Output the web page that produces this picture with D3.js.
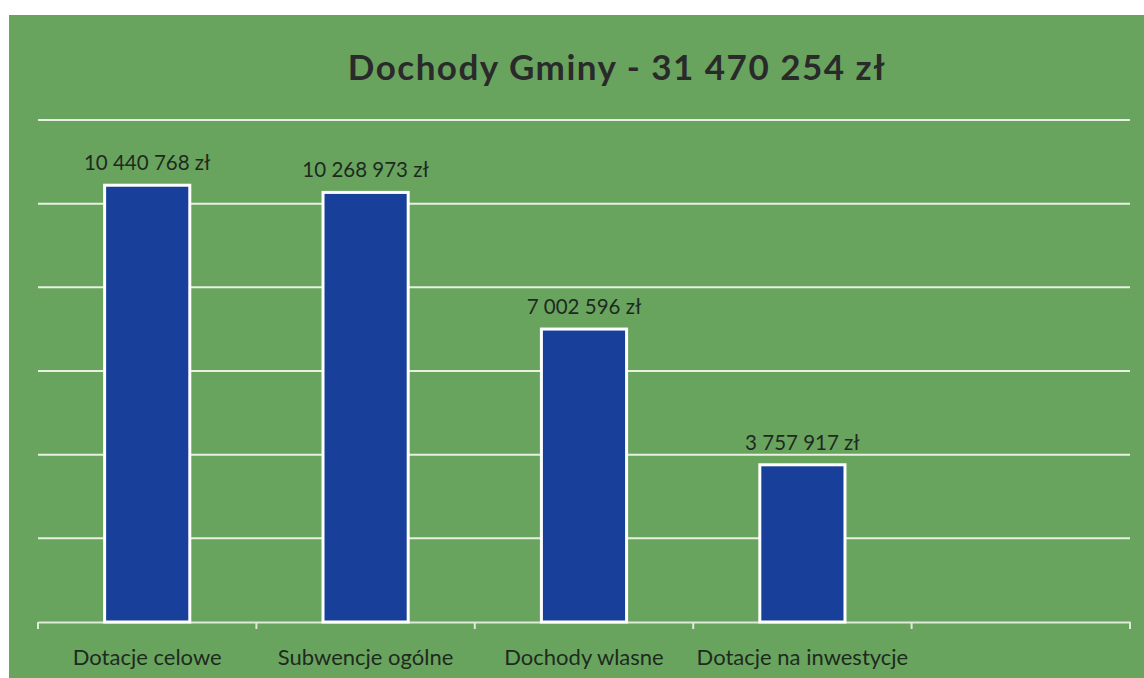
<!DOCTYPE html>
<html><head><meta charset="utf-8">
<script src="https://cdn.jsdelivr.net/npm/d3@7"></script>
<style>body{margin:0;background:#fff}svg{display:block}</style>
</head><body>
<svg id="c" width="1144" height="678"></svg>
<script>
const categories = ["Dotacje celowe", "Subwencje ogólne", "Dochody wlasne", "Dotacje na inwestycje", ""];
const values = [10440768, 10268973, 7002596, 3757917, null];
const valueLabels = ["10 440 768 zł", "10 268 973 zł", "7 002 596 zł", "3 757 917 zł", ""];
const yTicks = [0, 2000000, 4000000, 6000000, 8000000, 10000000, 12000000];
const title = "Dochody Gminy - 31 470 254 zł";

const svg = d3.select("#c");
svg.append("rect").attr("x", 9).attr("y", 15).attr("width", 1135).attr("height", 663).attr("fill", "#69a45f");

const x = d3.scaleBand().domain(categories).range([38, 1130]).paddingInner(0.61).paddingOuter(0.305);
const y = d3.scaleLinear().domain([0, 12000000]).range([622, 120]);

svg.append("g").selectAll("line").data(yTicks.slice(1)).join("line")
  .attr("x1", 38).attr("x2", 1130)
  .attr("y1", d => y(d)).attr("y2", d => y(d))
  .attr("stroke", "#e8f0e0").attr("stroke-width", 2);

const ax = svg.append("g").attr("transform", "translate(0,622)")
  .call(d3.axisBottom(x).tickSize(0).tickFormat(""));
ax.select(".domain").attr("stroke", "#e0e8d8").attr("stroke-width", 2);
const step = x.step();
svg.append("g").selectAll("line").data(d3.range(categories.length + 1)).join("line")
  .attr("x1", i => 38 + i * step).attr("x2", i => 38 + i * step)
  .attr("y1", 622).attr("y2", 629).attr("stroke", "#e0e8d8").attr("stroke-width", 2);

const data = categories.map((c, i) => ({c, v: values[i], l: valueLabels[i]})).filter(d => d.v != null);

svg.append("g").selectAll("rect").data(data).join("rect")
  .attr("x", d => x(d.c)).attr("width", x.bandwidth())
  .attr("y", d => y(d.v)).attr("height", d => y(0) - y(d.v))
  .attr("fill", "#18409a").attr("stroke", "#ffffff").attr("stroke-width", 3);

svg.append("g").selectAll("text").data(data).join("text")
  .attr("x", d => x(d.c) + x.bandwidth() / 2).attr("y", d => y(d.v) - 15)
  .attr("text-anchor", "middle").attr("font-family", "Lato, sans-serif")
  .attr("font-size", 20.5).attr("fill", "#1e2a1e").text(d => d.l);

svg.append("g").selectAll("text").data(categories.filter(c => c)).join("text")
  .attr("x", d => x(d) + x.bandwidth() / 2).attr("y", 665)
  .attr("text-anchor", "middle").attr("font-family", "Lato, sans-serif")
  .attr("font-size", 22).attr("fill", "#1e2a1e").text(d => d);

svg.append("text").attr("x", 617).attr("y", 80).attr("text-anchor", "middle")
  .attr("font-family", "Lato, sans-serif").attr("font-weight", "bold")
  .attr("font-size", 35).attr("letter-spacing", 1.5).attr("fill", "#2a2a2a").text(title);
</script>
</body></html>
